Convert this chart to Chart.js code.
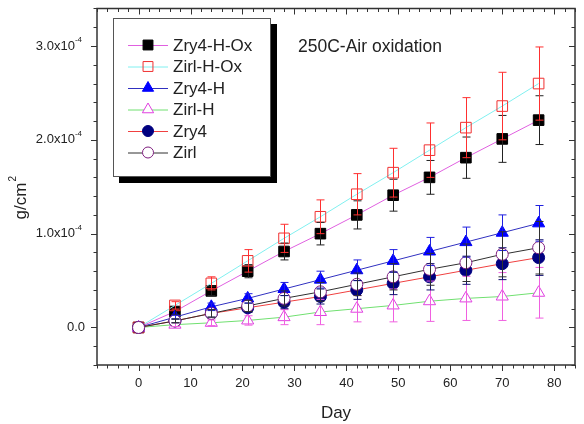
<!DOCTYPE html>
<html>
<head>
<meta charset="utf-8">
<title>250C-Air oxidation</title>
<script src="https://cdn.jsdelivr.net/npm/chart.js@4.4.0/dist/chart.umd.min.js"></script>
<style>
    html, body { margin: 0; padding: 0; background: #fff; }
    #chart { display: block; }
</style>
</head>
<body>
<canvas id="chart" width="584" height="424"></canvas>
<script>
// weight gain in units of 1e-4 g/cm^2
const days = [0, 7, 14, 21, 28, 35, 42, 49, 56, 63, 70, 77];

const zry4HOx = [0, 0.17, 0.39, 0.60, 0.81, 1.00, 1.20, 1.41, 1.60, 1.81, 2.01, 2.21];
const zry4HOxErr = [0, 0.03, 0.05, 0.07, 0.09, 0.12, 0.15, 0.17, 0.18, 0.22, 0.25, 0.26];

const zirlHOx = [0, 0.235, 0.47, 0.71, 0.95, 1.18, 1.42, 1.65, 1.89, 2.13, 2.36, 2.60];
const zirlHOxErr = [0, 0.04, 0.07, 0.12, 0.15, 0.18, 0.22, 0.26, 0.29, 0.32, 0.36, 0.39];

const zry4H = [0, 0.11, 0.22, 0.31, 0.41, 0.51, 0.61, 0.71, 0.81, 0.91, 1.01, 1.11];
const zry4HErr = [0, 0.02, 0.04, 0.05, 0.07, 0.09, 0.11, 0.12, 0.15, 0.16, 0.19, 0.19];

const zirlH = [0, 0.03, 0.05, 0.075, 0.11, 0.165, 0.20, 0.235, 0.28, 0.31, 0.33, 0.37];
const zirlHErr = [0, 0.02, 0.03, 0.05, 0.08, 0.135, 0.14, 0.175, 0.215, 0.235, 0.255, 0.27];

const zry4 = [0, 0.07, 0.15, 0.21, 0.27, 0.33, 0.40, 0.47, 0.54, 0.61, 0.68, 0.745];
const zry4Err = [0, 0.02, 0.04, 0.05, 0.07, 0.08, 0.10, 0.12, 0.14, 0.15, 0.17, 0.19];

const zirl = [0, 0.07, 0.15, 0.23, 0.31, 0.38, 0.46, 0.54, 0.62, 0.69, 0.78, 0.85];
const zirlErr = [0, 0.02, 0.04, 0.06, 0.08, 0.10, 0.12, 0.14, 0.17, 0.20, 0.24, 0.28];

const xTicks = [0, 10, 20, 30, 40, 50, 60, 70, 80];
const yTicks = [0, 1, 2, 3];

const seriesNames = ['Zry4-H-Ox', 'Zirl-H-Ox', 'Zry4-H', 'Zirl-H', 'Zry4', 'Zirl'];
const annotation = '250C-Air oxidation';

const FONT = '"Liberation Sans", Arial, sans-serif';
const INK = '#222';

const series = [
    { y: zry4HOx, err: zry4HOxErr, line: '#e060e0', fill: '#000', edge: '#000', err_c: '#222', shape: 'rect', r: 7.5 },
    { y: zirlHOx, err: zirlHOxErr, line: '#80f0f0', fill: 'rgba(0,0,0,0)', edge: '#f03030', err_c: '#ff3030', shape: 'rect', r: 7.5 },
    { y: zry4H, err: zry4HErr, line: '#3030c0', fill: '#0000ff', edge: '#0000ff', err_c: '#2020e0', shape: 'triangle', r: 7 },
    { y: zirlH, err: zirlHErr, line: '#70e070', fill: '#fff', edge: '#e040e0', err_c: '#f060e0', shape: 'triangle', r: 7 },
    { y: zry4, err: zry4Err, line: '#f04040', fill: '#000080', edge: '#000080', err_c: '#101070', shape: 'circle', r: 6 },
    { y: zirl, err: zirlErr, line: '#303030', fill: '#fff', edge: '#802080', err_c: '#303030', shape: 'circle', r: 6 },
];

const drawMarker = (ctx, s, x, y, r) => {
    ctx.save();
    ctx.fillStyle = s.fill;
    ctx.strokeStyle = s.edge;
    ctx.lineWidth = 1;
    ctx.beginPath();
    if (s.shape === 'rect') {
        const h = r * Math.SQRT1_2;
        ctx.rect(x - h, y - h, 2 * h, 2 * h);
    } else if (s.shape === 'triangle') {
        const side = r * 3 / Math.sqrt(3);
        const height = side * Math.sqrt(3) / 2;
        ctx.moveTo(x, y - height * 2 / 3);
        ctx.lineTo(x + side / 2, y + height / 3);
        ctx.lineTo(x - side / 2, y + height / 3);
        ctx.closePath();
    } else {
        ctx.arc(x, y, r, 0, Math.PI * 2);
    }
    ctx.fill();
    ctx.stroke();
    ctx.restore();
};

const frame = {
    id: 'frame',
    afterDraw: chart => {
        const ctx = chart.ctx;
        const a = chart.chartArea;
        const xs = chart.scales.x;
        const ys = chart.scales.y;
        ctx.save();
        ctx.strokeStyle = '#333';
        ctx.lineWidth = 1.5;
        ctx.strokeRect(a.left, a.top, a.right - a.left, a.bottom - a.top);

        ctx.lineWidth = 1;
        ctx.beginPath();
        for (let v = -8; v <= 84; v += 2) {
            const px = Math.round(xs.getPixelForValue(v)) + 0.5;
            const len = v % 10 === 0 ? 6 : 3.5;
            ctx.moveTo(px, a.bottom);
            ctx.lineTo(px, a.bottom + len);
            ctx.moveTo(px, a.top);
            ctx.lineTo(px, a.top + len);
        }
        for (let i = -2; i <= 17; i++) {
            const v = i * 0.2;
            const py = Math.round(ys.getPixelForValue(v)) + 0.5;
            const len = i % 5 === 0 ? 6 : 3.5;
            ctx.moveTo(a.left, py);
            ctx.lineTo(a.left - len, py);
            ctx.moveTo(a.right, py);
            ctx.lineTo(a.right - len, py);
        }
        ctx.stroke();

        // y tick labels with superscript exponent
        ctx.fillStyle = INK;
        ctx.textBaseline = 'middle';
        yTicks.forEach(v => {
            const py = ys.getPixelForValue(v);
            if (v === 0) {
                ctx.font = '13px ' + FONT;
                ctx.textAlign = 'right';
                ctx.fillText('0.0', 85, py);
                return;
            }
            ctx.font = '8px ' + FONT;
            ctx.textAlign = 'right';
            ctx.fillText('-4', 82, py - 6);
            const w = ctx.measureText('-4').width;
            ctx.font = '13px ' + FONT;
            ctx.fillText(v.toFixed(1) + 'x10', 82 - w, py);
        });

        // y title rotated
        ctx.translate(21, 198);
        ctx.rotate(-Math.PI / 2);
        ctx.font = '17px ' + FONT;
        ctx.textAlign = 'center';
        ctx.fillText('g/cm', -3, 0);
        const gw = ctx.measureText('g/cm').width;
        ctx.font = '10px ' + FONT;
        ctx.textAlign = 'left';
        ctx.fillText('2', -3 + gw / 2 + 1, -8);
        ctx.restore();
    },
};

const errorBars = {
    id: 'errorBars',
    afterDatasetsDraw: chart => {
        const ctx = chart.ctx;
        const xs = chart.scales.x;
        const ys = chart.scales.y;
        ctx.save();
        ctx.lineWidth = 1;
        series.forEach(s => {
            ctx.strokeStyle = s.err_c;
            ctx.beginPath();
            days.forEach((d, i) => {
                if (!s.err[i]) return;
                const px = Math.round(xs.getPixelForValue(d)) + 0.5;
                const top = ys.getPixelForValue(s.y[i] + s.err[i]);
                const bot = ys.getPixelForValue(s.y[i] - s.err[i]);
                ctx.moveTo(px, top);
                ctx.lineTo(px, bot);
                ctx.moveTo(px - 4, top);
                ctx.lineTo(px + 4, top);
                ctx.moveTo(px - 4, bot);
                ctx.lineTo(px + 4, bot);
            });
            ctx.stroke();
        });
        ctx.restore();
    },
};

const legendBox = {
    id: 'legendBox',
    afterDraw: chart => {
        const ctx = chart.ctx;
        ctx.save();
        ctx.fillStyle = '#000';
        ctx.fillRect(119, 24, 158, 159);
        ctx.fillStyle = '#fff';
        ctx.fillRect(113, 18, 158, 159);
        ctx.strokeStyle = '#555';
        ctx.lineWidth = 1;
        ctx.strokeRect(113.5, 18.5, 157, 158);

        ctx.font = '17px ' + FONT;
        ctx.textBaseline = 'middle';
        ctx.textAlign = 'left';
        series.forEach((s, i) => {
            const y = 45 + i * 21.5;
            ctx.strokeStyle = s.line;
            ctx.beginPath();
            ctx.moveTo(128, y + 0.5);
            ctx.lineTo(168, y + 0.5);
            ctx.stroke();
            drawMarker(ctx, s, 148, y, s.r - 0.5);
            ctx.fillStyle = INK;
            ctx.fillText(seriesNames[i], 173, y + 1);
        });

        ctx.font = '17.5px ' + FONT;
        ctx.fillText(annotation, 298, 47);
        ctx.restore();
    },
};

const datasets = series.map((s, i) => ({
    label: seriesNames[i],
    data: days.map((d, j) => ({ x: d, y: s.y[j] })),
    borderColor: s.line,
    borderWidth: 1,
    backgroundColor: s.fill,
    pointStyle: s.shape,
    pointRadius: s.r,
    pointHoverRadius: s.r,
    pointBackgroundColor: s.fill,
    pointBorderColor: s.edge,
    pointBorderWidth: 1,
    tension: 0,
    fill: false,
    order: series.length - i,
}));

new Chart(document.getElementById('chart'), {
    type: 'line',
    data: { datasets: datasets },
    options: {
        responsive: false,
        animation: false,
        events: [],
        layout: { padding: { top: 8, right: 9, left: 0, bottom: 0 } },
        plugins: {
            legend: { display: false },
            tooltip: { enabled: false },
        },
        scales: {
            x: {
                type: 'linear',
                min: -8,
                max: 84,
                afterFit: scale => { scale.height = 59; },
                afterBuildTicks: scale => { scale.ticks = xTicks.map(v => ({ value: v })); },
                grid: { display: false, drawTicks: false },
                border: { display: false },
                ticks: {
                    padding: 11,
                    color: INK,
                    font: { family: FONT, size: 13 },
                    maxRotation: 0,
                    callback: v => String(v),
                },
                title: {
                    display: true,
                    text: 'Day',
                    color: INK,
                    font: { family: FONT, size: 17 },
                    padding: { top: 8, bottom: 0 },
                },
            },
            y: {
                type: 'linear',
                min: -0.4,
                max: 3.4,
                afterFit: scale => { scale.width = 97; },
                afterBuildTicks: scale => { scale.ticks = yTicks.map(v => ({ value: v })); },
                grid: { display: false, drawTicks: false },
                border: { display: false },
                ticks: { display: false },
            },
        },
    },
    plugins: [errorBars, frame, legendBox],
});
</script>
</body>
</html>
